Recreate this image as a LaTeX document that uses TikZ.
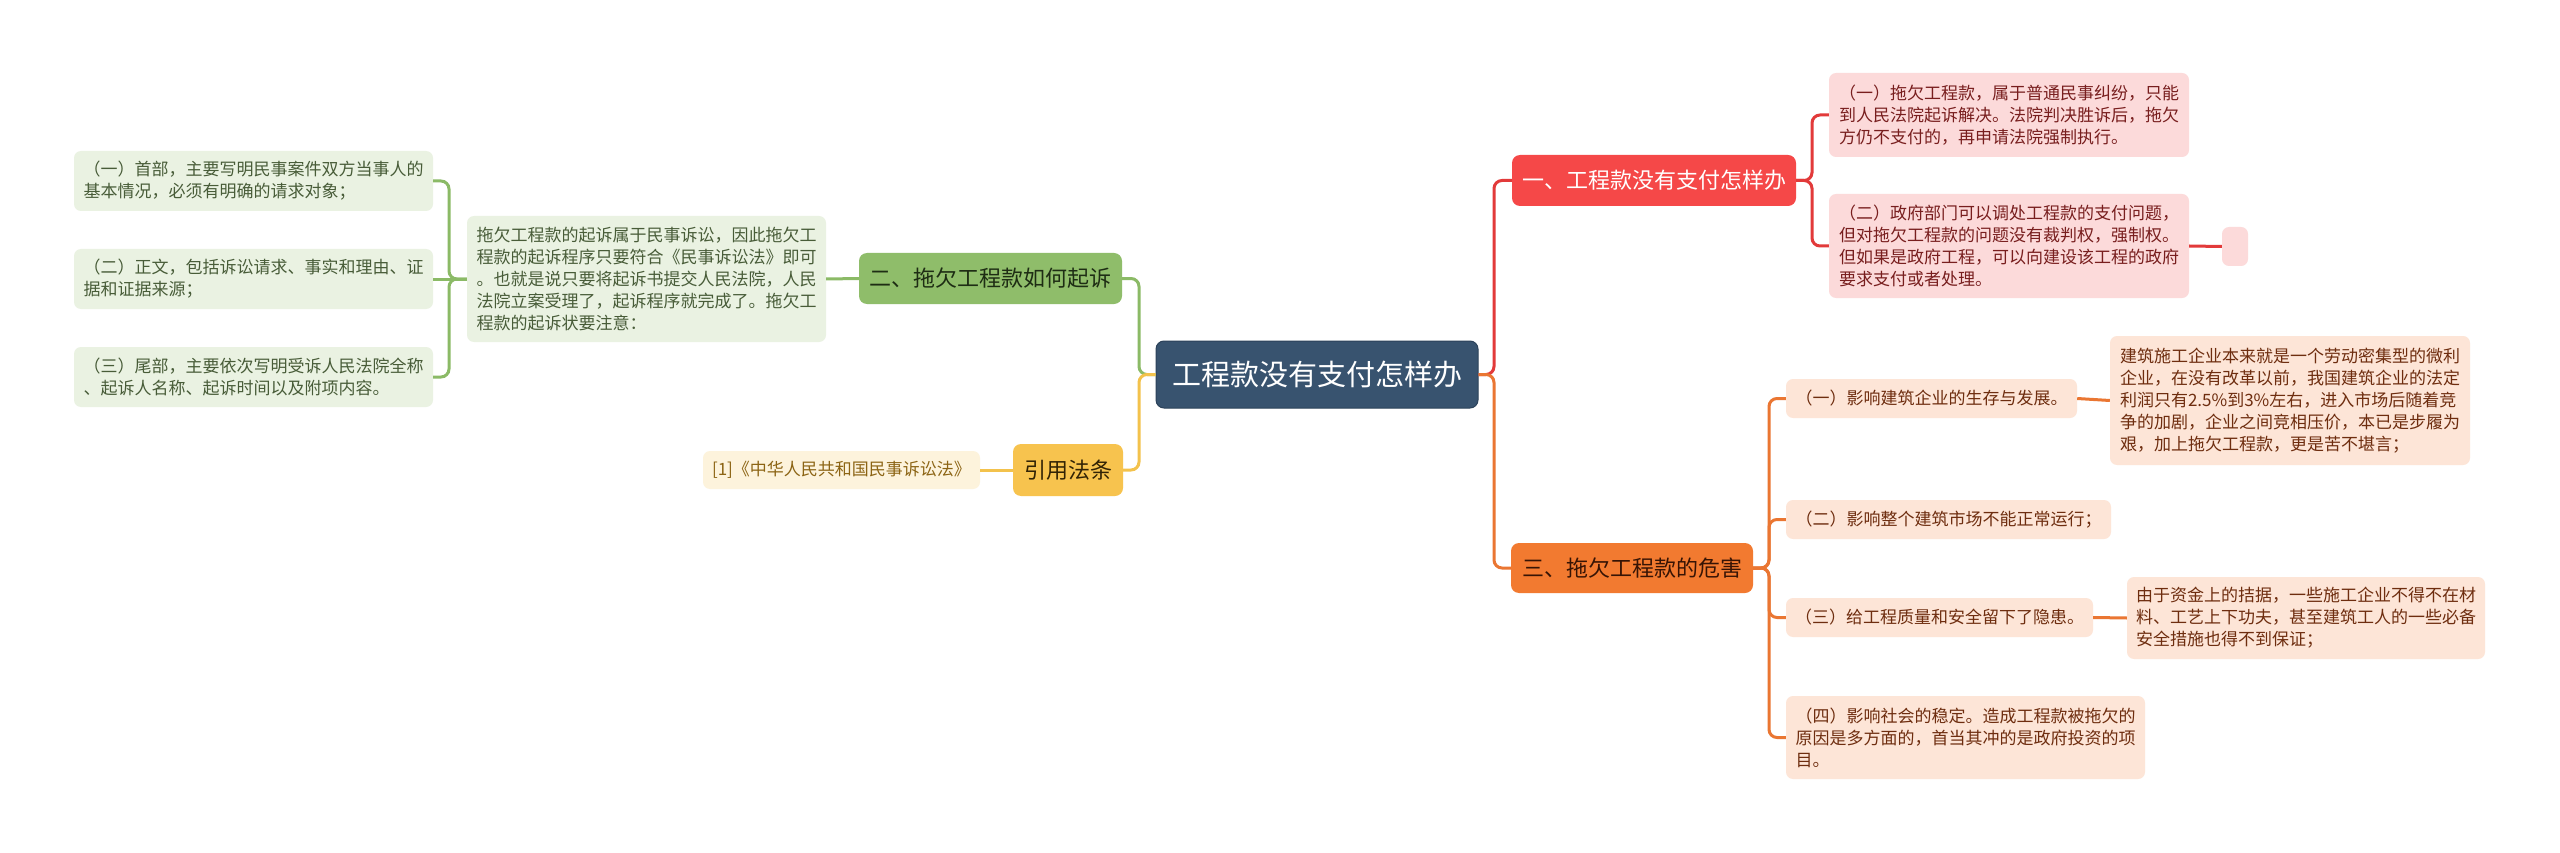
\documentclass[tikz,border=0pt]{standalone}
\usepackage{fontspec}
\setmainfont{Noto Sans CJK SC}
\definecolor{cBlue}{RGB}{56,83,111}
\definecolor{cBlueD}{RGB}{44,66,90}
\definecolor{cGreen}{RGB}{143,189,106}
\definecolor{cGreenT}{RGB}{30,45,20}
\definecolor{cGreenL}{RGB}{234,242,226}
\definecolor{cGreenLT}{RGB}{72,92,56}
\definecolor{cGreenLine}{RGB}{139,186,102}
\definecolor{cYel}{RGB}{247,195,78}
\definecolor{cYelT}{RGB}{50,35,5}
\definecolor{cYelL}{RGB}{253,243,220}
\definecolor{cYelLT}{RGB}{140,100,20}
\definecolor{cYelLine}{RGB}{243,194,76}
\definecolor{cRed}{RGB}{245,72,72}
\definecolor{cRedLine}{RGB}{226,58,58}
\definecolor{cRedL}{RGB}{252,218,218}
\definecolor{cRedLT}{RGB}{120,30,30}
\definecolor{cOr}{RGB}{242,122,48}
\definecolor{cOrT}{RGB}{55,20,5}
\definecolor{cOrLine}{RGB}{234,118,50}
\definecolor{cOrL}{RGB}{253,229,215}
\definecolor{cOrLT}{RGB}{110,45,15}
\tikzset{
  base/.style={rounded corners=8pt, inner sep=0pt, align=left, anchor=center},
  centralbox/.style={base, fill=cBlue, draw=cBlueD, line width=1pt, text=white, font=\fontsize{29}{34}\selectfont},
  mainG/.style={base, fill=cGreen, text=cGreenT, font=\fontsize{22}{26}\selectfont},
  mainY/.style={base, fill=cYel, text=cYelT, font=\fontsize{22}{26}\selectfont},
  mainR/.style={base, fill=cRed, text=white, font=\fontsize{22}{26}\selectfont},
  mainO/.style={base, fill=cOr, text=cOrT, font=\fontsize{22}{26}\selectfont},
  leafG/.style={base, rounded corners=7pt, fill=cGreenL, text=cGreenLT, font=\fontsize{17}{22}\selectfont},
  leafY/.style={base, rounded corners=7pt, fill=cYelL, text=cYelLT, font=\fontsize{17}{22}\selectfont},
  leafR/.style={base, rounded corners=7pt, fill=cRedL, text=cRedLT, font=\fontsize{17}{22}\selectfont},
  leafO/.style={base, rounded corners=7pt, fill=cOrL, text=cOrLT, font=\fontsize{17}{22}\selectfont},
  lnG/.style={draw=cGreenLine, line width=3pt, rounded corners=8pt},
  lnY/.style={draw=cYelLine, line width=3pt, rounded corners=8pt},
  lnR/.style={draw=cRedLine, line width=3pt, rounded corners=8pt},
  lnO/.style={draw=cOrLine, line width=3pt, rounded corners=8pt},
}
\newcommand\bx[6]{\node[#1, minimum width=#4, minimum height=#5] (#2) at (#3) {#6};}
\begin{document}
\begin{tikzpicture}[x=1pt,y=-1pt]
\useasboundingbox (0,0) rectangle (2560,853);
\fill[white] (0,0) rectangle (2560,853);

% nodes
\bx{centralbox}{c}{1317,374.5}{322}{67}{工程款没有支付怎样办}
\bx{mainG}{g}{990.5,278.5}{263}{51}{二、拖欠工程款如何起诉}
\bx{mainY}{y}{1068,470}{110}{52}{引用法条}
\bx{mainR}{r}{1654,180.5}{284}{51}{一、工程款没有支付怎样办}
\bx{mainO}{o}{1632,568}{242}{50}{三、拖欠工程款的危害}

\bx{leafG}{gm}{646.5,279}{359}{126}{拖欠工程款的起诉属于民事诉讼，因此拖欠工\\程款的起诉程序只要符合《民事诉讼法》即可\\。也就是说只要将起诉书提交人民法院，人民\\法院立案受理了，起诉程序就完成了。拖欠工\\程款的起诉状要注意：}
\bx{leafG}{g1}{253.5,181}{359}{60}{（一）首部，主要写明民事案件双方当事人的\\基本情况，必须有明确的请求对象；}
\bx{leafG}{g2}{253.5,279}{359}{60}{（二）正文，包括诉讼请求、事实和理由、证\\据和证据来源；\hphantom{包括诉讼请求、事实和理由、}}
\bx{leafG}{g3}{253.5,377}{359}{60}{（三）尾部，主要依次写明受诉人民法院全称\\、起诉人名称、起诉时间以及附项内容。}

\bx{leafY}{y1}{841.5,470}{277}{38}{[1]《中华人民共和国民事诉讼法》}

\bx{leafR}{r1}{2009,115}{360}{84}{（一）拖欠工程款，属于普通民事纠纷，只能\\到人民法院起诉解决。法院判决胜诉后，拖欠\\方仍不支付的，再申请法院强制执行。}
\bx{leafR}{r2}{2009,246}{360}{104}{（二）政府部门可以调处工程款的支付问题，\\但对拖欠工程款的问题没有裁判权，强制权。\\但如果是政府工程，可以向建设该工程的政府\\要求支付或者处理。}
\bx{leafR}{r2a}{2235,246.5}{26}{39}{}

\bx{leafO}{o1}{1931.5,398.5}{291}{39}{（一）影响建筑企业的生存与发展。}
\bx{leafO}{o1a}{2290,400.5}{360}{129}{建筑施工企业本来就是一个劳动密集型的微利\\企业，在没有改革以前，我国建筑企业的法定\\利润只有2.5\%到3\%左右，进入市场后随着竞\\争的加剧，企业之间竞相压价，本已是步履为\\艰，加上拖欠工程款，更是苦不堪言；}
\bx{leafO}{o2}{1948.5,519.5}{325}{39}{（二）影响整个建筑市场不能正常运行；}
\bx{leafO}{o3}{1939.5,617.5}{307}{39}{（三）给工程质量和安全留下了隐患。}
\bx{leafO}{o3a}{2306,618}{358}{82}{由于资金上的拮据，一些施工企业不得不在材\\料、工艺上下功夫，甚至建筑工人的一些必备\\安全措施也得不到保证；}
\bx{leafO}{o4}{1965.5,737.5}{359}{83}{（四）影响社会的稳定。造成工程款被拖欠的\\原因是多方面的，首当其冲的是政府投资的项\\目。}

% trunk coordinates
\coordinate (JL) at (1139,374.5);
\coordinate (JR) at (1494,374.5);
\coordinate (BG) at (449,279);
\coordinate (BR) at (1812,180.5);
\coordinate (BO) at (1769,568);

% connectors from centre
\draw[lnR] (c.east) -- (JR) |- (r.west);
\draw[lnO] (c.east) -- (JR) |- (o.west);
\draw[lnG] (c.west) -- (JL) |- (g.east);
\draw[lnY] (c.west) -- (JL) |- (y.east);

% green branch
\draw[lnG] (g.west) -- (gm.east);
\draw[lnG] (gm.west) -- (BG) |- (g1.east);
\draw[lnG] (gm.west) -- (g2.east);
\draw[lnG] (gm.west) -- (BG) |- (g3.east);

% yellow branch
\draw[lnY] (y.west) -- (y1.east);

% red branch
\draw[lnR] (r.east) -- (BR) |- (r1.west);
\draw[lnR] (r.east) -- (BR) |- (r2.west);
\draw[lnR] (r2.east) -- (r2a.west);

% orange branch
\draw[lnO] (o.east) -- (BO) |- (o1.west);
\draw[lnO] (o.east) -- (BO) |- (o2.west);
\draw[lnO] (o.east) -- (BO) |- (o3.west);
\draw[lnO] (o.east) -- (BO) |- (o4.west);
\draw[lnO] (o1.east) -- (o1a.west);
\draw[lnO] (o3.east) -- (o3a.west);
\end{tikzpicture}
\end{document}
